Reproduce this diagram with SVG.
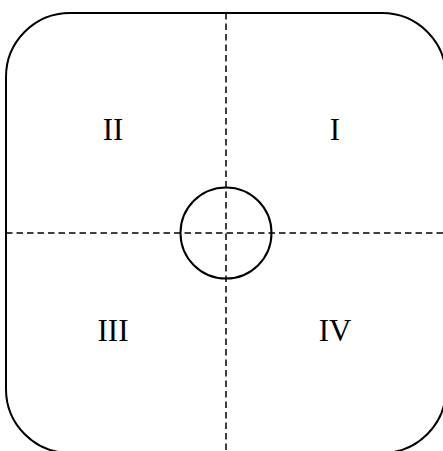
<svg xmlns="http://www.w3.org/2000/svg" width="443" height="451" viewBox="0 0 443 451">
<style>
.outline{fill:none;stroke:#000;stroke-width:2}
.axis{fill:none;stroke:#000;stroke-width:1.5;stroke-dasharray:6.5,4}
.lbl{font-family:"Liberation Serif",serif;font-size:31px;fill:#000;text-anchor:middle}
</style>
<rect width="443" height="451" fill="#fff"/>
<g id="frame"><rect class="outline" x="6" y="13" width="440" height="440" rx="64" ry="64"/></g>
<g id="connectors">
<line class="axis" x1="226" y1="13" x2="226" y2="451"/>
<line class="axis" x1="6" y1="233" x2="443" y2="233"/>
</g>
<g id="center"><circle class="outline" cx="226" cy="233" r="45.5"/></g>
<g id="q1"><text class="lbl" x="335" y="140">I</text></g>
<g id="q2"><text class="lbl" x="113" y="140">II</text></g>
<g id="q3"><text class="lbl" x="113" y="341">III</text></g>
<g id="q4"><text class="lbl" x="335" y="341">IV</text></g>
</svg>
